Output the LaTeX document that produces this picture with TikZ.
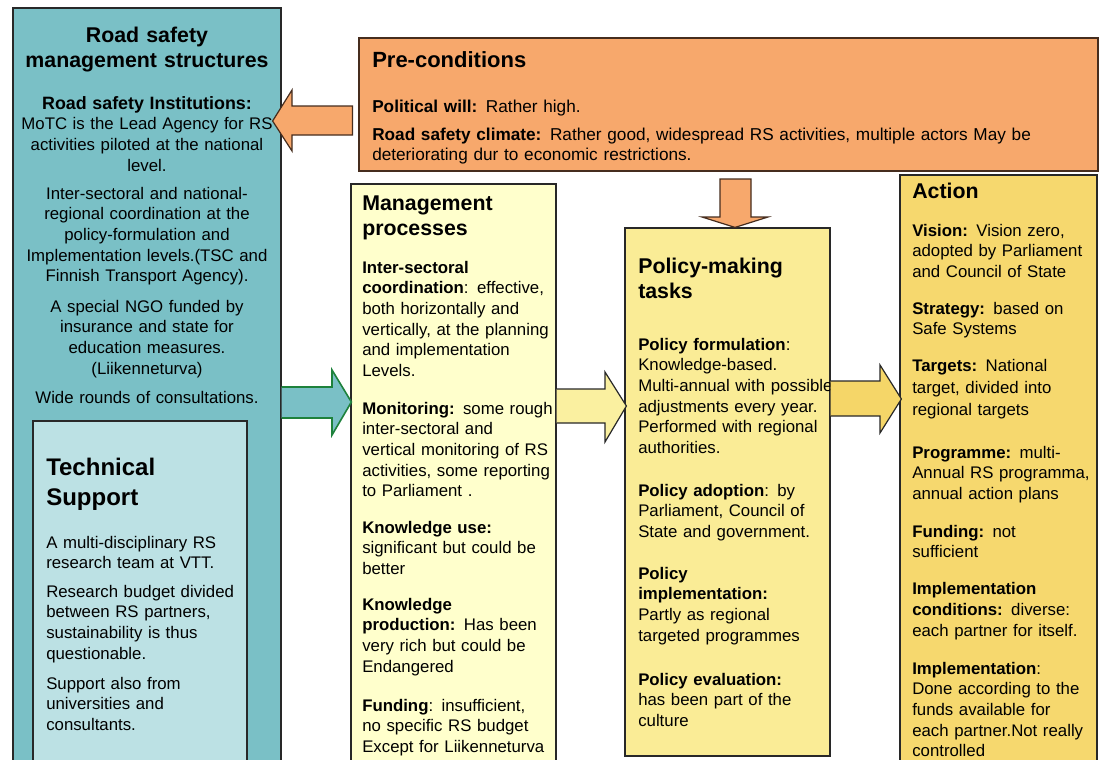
\documentclass[tikz,border=0pt]{standalone}
\usepackage{fontspec}
\setmainfont{Liberation Sans}
\usetikzlibrary{fit,calc}
\definecolor{tealbox}{RGB}{122,192,198}
\definecolor{techbg}{RGB}{188,225,228}
\definecolor{orangebox}{RGB}{247,168,108}
\definecolor{mgmtbg}{RGB}{255,255,204}
\definecolor{policybg}{RGB}{250,236,150}
\definecolor{actionbg}{RGB}{246,216,110}
\definecolor{yarrowa}{RGB}{250,240,160}
\definecolor{yarrowb}{RGB}{245,214,104}
\definecolor{greenline}{RGB}{30,130,60}
\definecolor{boxline}{RGB}{40,40,40}
\definecolor{pcline}{RGB}{70,45,30}
\newcommand\rsbody{\fontsize{12.6}{15.5}\selectfont}
\newcommand\rstitle{\fontsize{16}{19}\selectfont\bfseries}
\begin{document}
\begin{tikzpicture}[x=0.75pt,y=-0.75pt,
  box/.style={draw=boxline, line width=0.9pt, inner sep=0pt},
  tl/.style={inner sep=0pt, anchor=base west, align=left, text width=190pt, font=\rsbody},
  tc/.style={inner sep=0pt, anchor=base, align=center, text width=201pt, font=\rsbody},
  ttl/.style={inner sep=0pt, anchor=base west, align=left, text width=190pt, font=\rstitle},
  blockarrow/.style={draw=boxline, line width=0.9pt, line join=miter}]
\useasboundingbox (0,0) rectangle (1100,760);
\clip (0,0) rectangle (1100,760);
\fill[white] (0,0) rectangle (1100,760);

% boxes
\node[box, fill=tealbox, fit={(13,8) (281,800)}] (rs) {};
\node[box, fill=techbg, fit={(33,421) (247,800)}] (ts) {};
\node[box, draw=pcline, fill=orangebox, fit={(359,38) (1098,171)}] (pc) {};
\node[box, fill=mgmtbg, fit={(351,184) (556,800)}] (mp) {};
\node[box, fill=policybg, fit={(625,228) (830,756)}] (pm) {};
\node[box, fill=actionbg, fit={(900,175) (1097,800)}] (ac) {};

% road safety management structures
\node[tc, font=\rstitle] (rst) at (147,42) {Road safety\\management structures};
\node[tc] (rs1) at (147,109) {{\fontsize{13.4}{15.5}\selectfont\bfseries Road safety Institutions:}\\MoTC is the Lead Agency for RS\\activities piloted at the national\\level.};
\node[tc] (rs2) at (147,199) {Inter-sectoral and national-\\regional coordination at the\\policy-formulation and\\Implementation levels.(TSC and\\Finnish Transport Agency).};
\node[tc] (rs3) at (147,312) {A special NGO funded by\\insurance and state for\\education measures.\\(Liikenneturva)};
\node[tc] (rs4) at (147,403) {Wide rounds of consultations.};

% technical support
\node[ttl, font=\fontsize{18}{22.5}\selectfont\bfseries] (tst) at (46,475) {Technical\\Support};
\node[tl] (ts1) at (46,548) {A multi-disciplinary RS\\research team at VTT.};
\node[tl] (ts2) at (46,597) {Research budget divided\\between RS partners,\\sustainability is thus\\questionable.};
\node[tl] (ts3) at (46,689) {Support also from\\universities and\\consultants.};

% pre-conditions
\node[ttl, font=\fontsize{16.5}{19}\selectfont\bfseries] (pct) at (372,67) {Pre-conditions};
\node[tl, text width=540pt, font=\fontsize{12.9}{15.7}\selectfont] (pc1) at (372,112) {\textbf{Political will:} Rather high.};
\node[tl, text width=540pt, font=\fontsize{12.9}{15.7}\selectfont] (pc2) at (372,140) {\textbf{Road safety climate:} Rather good, widespread RS activities, multiple actors May be\\deteriorating dur to economic restrictions.};

% management processes
\node[ttl] (mpt) at (362,210) {Management\\processes};
\node[tl] (mp1) at (362,273) {\textbf{Inter-sectoral}\\\textbf{coordination}: effective,\\both horizontally and\\vertically, at the planning\\and implementation\\Levels.};
\node[tl] (mp2) at (362,414) {\textbf{Monitoring:} some rough\\inter-sectoral and\\vertical monitoring of RS\\activities, some reporting\\to Parliament .};
\node[tl] (mp3) at (362,533) {\textbf{Knowledge use:}\\significant but could be\\better};
\node[tl] (mp4) at (362,610) {\textbf{Knowledge}\\\textbf{production:} Has been\\very rich but could be\\Endangered};
\node[tl] (mp5) at (362,711) {\textbf{Funding}: insufficient,\\no specific RS budget\\Except for Liikenneturva};

% policy-making tasks
\node[ttl] (pmt) at (638,273) {Policy-making\\tasks};
\node[tl] (pm1) at (638,350) {\textbf{Policy formulation}:\\Knowledge-based.\\Multi-annual with possible\\adjustments every year.\\Performed with regional\\authorities.};
\node[tl] (pm2) at (638,496) {\textbf{Policy adoption}: by\\Parliament, Council of\\State and government.};
\node[tl] (pm3) at (638,579) {\textbf{Policy}\\\textbf{implementation:}\\Partly as regional\\targeted programmes};
\node[tl] (pm4) at (638,685) {\textbf{Policy evaluation:}\\has been part of the\\culture};

% action
\node[ttl] (act) at (912,198) {Action};
\node[tl] (ac1) at (912,236) {\textbf{Vision:} Vision zero,\\adopted by Parliament\\and Council of State};
\node[tl] (ac2) at (912,314) {\textbf{Strategy:} based on\\Safe Systems};
\node[tl, font=\fontsize{12.6}{16.8}\selectfont] (ac3) at (912,371) {\textbf{Targets:} National\\target, divided into\\regional targets};
\node[tl] (ac4) at (912,458) {\textbf{Programme:} multi-\\Annual RS programma,\\annual action plans};
\node[tl] (ac5) at (912,537) {\textbf{Funding:} not\\sufficient};
\node[tl, font=\fontsize{12.6}{16}\selectfont] (ac6) at (912,594) {\textbf{Implementation}\\\textbf{conditions:} diverse:\\each partner for itself.};
\node[tl] (ac7) at (912,674) {\textbf{Implementation}:\\Done according to the\\funds available for\\each partner.Not really\\controlled};

% block arrows
\draw[blockarrow, draw=pcline, fill=orangebox]
  ($(pc.west|-0,106)+(-6,0)$) -- (292,106) -- (292,90) -- ($(rs.east|-0,121)+(-9,0)$)
  -- (292,151) -- (292,135) -- ($(pc.west|-0,135)+(-6,0)$) -- cycle;
\draw[blockarrow, draw=pcline, fill=orangebox]
  (720,179) -- (751,179) -- (751,217) -- (768,217) -- (735,0 |- pm.north)
  -- (702,217) -- (720,217) -- cycle;
\draw[draw=greenline, line width=1.2pt, line join=miter, fill=tealbox]
  (rs.east|-0,387) -- (332,387) -- (332,370) -- ($(mp.west|-0,402)+(1,0)$)
  -- (332,435) -- (332,418) -- (rs.east|-0,418);
\draw[blockarrow, fill=yarrowa]
  (mp.east|-0,389) -- (605,389) -- (605,372) -- ($(pm.west|-0,406)+(2,0)$)
  -- (605,442) -- (605,423) -- (mp.east|-0,423);
\draw[blockarrow, fill=yarrowb]
  (pm.east|-0,381) -- (880,381) -- (880,365) -- ($(ac.west|-0,399)+(2,0)$)
  -- (880,433) -- (880,416) -- (pm.east|-0,416);
\end{tikzpicture}
\end{document}
